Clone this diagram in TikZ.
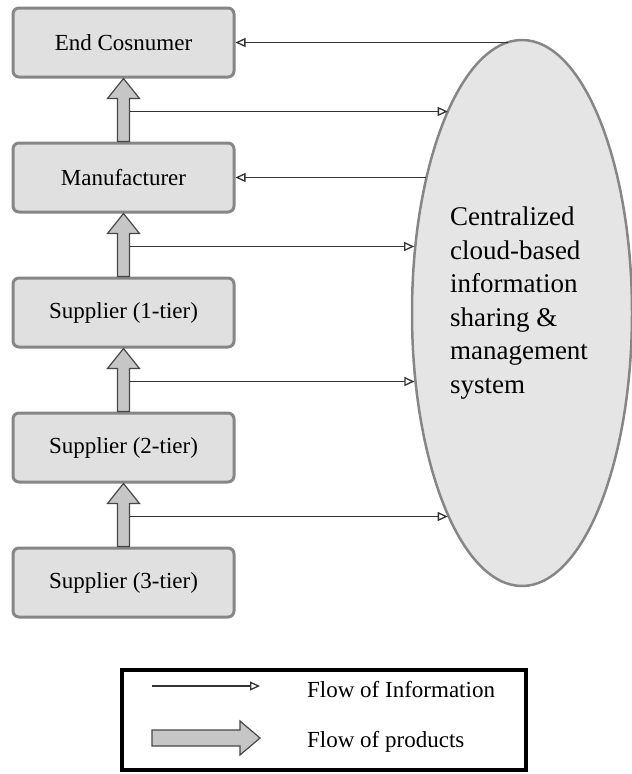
\documentclass[tikz,border=0pt]{standalone}
\usepackage{fontspec}
\setmainfont{Liberation Serif}
\usepackage{tikz}
\usetikzlibrary{arrows.meta,positioning,shapes.geometric,calc}
\definecolor{cadeiafill}{HTML}{E0E0E0}
\definecolor{cadeiaborda}{HTML}{868686}
\definecolor{setafill}{HTML}{C6C6C6}
\definecolor{setaborda}{HTML}{474747}

\begin{document}
\begin{tikzpicture}[
  x=1pt, y=1pt,
  node distance=63pt,
  every node/.style={font=\fontsize{23}{27}\selectfont},
  caixa/.style={rectangle, rounded corners=6pt, draw=cadeiaborda, line width=3pt, fill=cadeiafill, minimum width=221pt, minimum height=69pt, inner sep=0pt},
  nuvem/.style={ellipse, draw=cadeiaborda, line width=2.5pt, fill=cadeiafill!85!white, minimum width=220pt, minimum height=546pt, inner sep=0pt},
  seta/.style={-{Triangle[open, length=10pt, width=9pt]}, line width=1.3pt, draw=black!80},
  fluxo/.style={draw=setaborda, line width=1.2pt, fill=setafill, line join=miter}
]
  \useasboundingbox (0,0) rectangle (632,-774);
  \node[caixa] (consumidor) at (123.5,-42.5) {End Cosnumer};
  \node[caixa, below=of consumidor] (fabricante) {Manufacturer};
  \node[caixa, below=of fabricante] (forn1) {Supplier (1-tier)};
  \node[caixa, below=of forn1] (forn2) {Supplier (2-tier)};
  \node[caixa, below=of forn2] (forn3) {Supplier (3-tier)};
  \node[nuvem] (sistema) at (522,-313) {};
  \node[align=left, font=\fontsize{27}{33.6}\selectfont] (rotulo) at ($(sistema.center)+(-3,10)$) {Centralized\\cloud-based\\information\\sharing \&\\management\\system};

  % flow of products
  \foreach \de/\para in {forn3/forn2, forn2/forn1, forn1/fabricante, fabricante/consumidor}
    \draw[fluxo] ($(\de.north)+(-6,0)$) -- ($(\para.south)+(-6,-20)$) -- ++(-10,0) -- (\para.south)
      -- ($(\para.south)+(16,-20)$) -- ++(-10,0) -- ($(\de.north)+(6,0)$) -- cycle;

  % flow of information
  \foreach \de/\ang [count=\i] in {consumidor/110, fabricante/148, forn1/213, forn2/250} {
    \coordinate (info\i) at ($(\de.south)+(6.5,-33)$);
    \draw[seta] (info\i) -- (info\i -| sistema.\ang);
  }
  \draw[seta] (consumidor.east -| sistema.93) -- (consumidor.east);
  \draw[seta] (fabricante.east -| sistema.125) -- (fabricante.east);

  % legend
  \node[draw, line width=4pt, minimum width=404pt, minimum height=100pt, inner sep=0pt] (legenda) at (324,-720) {};
  \coordinate (legi) at (152,-686);
  \coordinate (legf) at (260,-686);
  \draw[seta] (legi) -- (legf);
  \node[anchor=base west, inner sep=0pt] (txtinfo) at (307,-697) {Flow of Information};
  \coordinate (legp) at (152,-738);
  \draw[fluxo] ($(legp)+(0,8)$) -- ++(88,0) -- ++(0,9) -- ($(legp)+(108,0)$) -- ($(legp)+(88,-17)$)
    -- ++(0,9) -- ($(legp)+(0,-8)$) -- cycle;
  \node[anchor=base west, inner sep=0pt] (txtprod) at (307,-747) {Flow of products};
\end{tikzpicture}
\end{document}
